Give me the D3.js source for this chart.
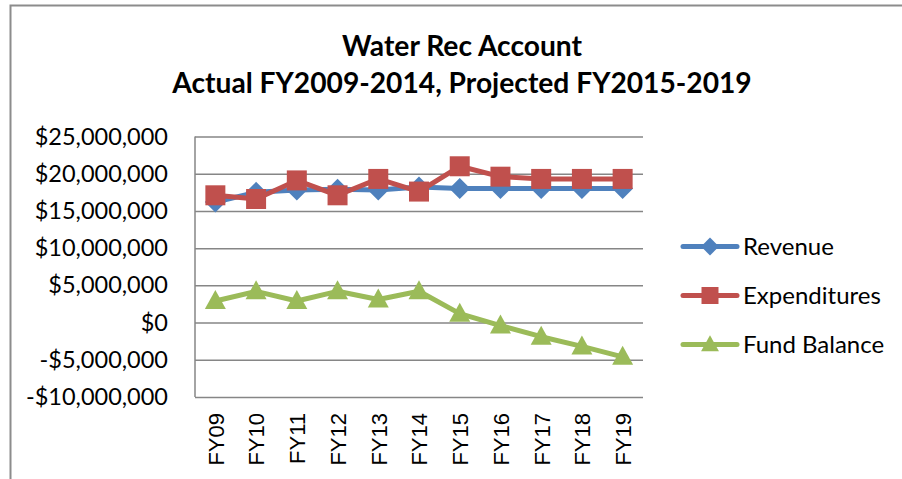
<!DOCTYPE html>
<html>
<head>
<meta charset="utf-8">
<script src="https://cdn.jsdelivr.net/npm/d3@7"></script>
<style>
  body { margin: 0; background: #fff; }
  svg { display: block; }
</style>
</head>
<body>
<svg class="chart"></svg>
<script>
const width = 902
const height = 479
const margin = { top: 136.5, right: 259, bottom: 82, left: 195 }

const years = ['FY09', 'FY10', 'FY11', 'FY12', 'FY13', 'FY14', 'FY15', 'FY16', 'FY17', 'FY18', 'FY19']
const revenue = [16.2, 17.5, 17.8, 17.9, 17.8, 18.2, 18.0, 18.0, 18.0, 18.0, 18.0]
const expenditures = [17.1, 16.6, 19.1, 17.1, 19.3, 17.6, 21.0, 19.6, 19.3, 19.3, 19.3]
const fundBalance = [2.9, 4.2, 2.9, 4.2, 3.1, 4.2, 1.2, -0.4, -1.9, -3.2, -4.6]
const yTicks = [25, 20, 15, 10, 5, 0, -5, -10]
const titleLines = ['Water Rec Account', 'Actual FY2009-2014, Projected FY2015-2019']

const series = [
  { name: 'Revenue', values: revenue, color: '#4F81BD', marker: 'diamond' },
  { name: 'Expenditures', values: expenditures, color: '#C0504D', marker: 'square' },
  { name: 'Fund Balance', values: fundBalance, color: '#9BBB59', marker: 'triangle' }
]

const x = d3.scaleBand()
  .domain(years)
  .range([margin.left, width - margin.right])

const y = d3.scaleLinear()
  .domain([-10, 25])
  .range([height - margin.bottom, margin.top])

const fmt = v => (v < 0 ? '-$' : '$') + d3.format(',')(Math.abs(v) * 1e6)

function markerPath(type) {
  if (type === 'diamond') return 'M0,-10.5L10.5,0L0,10.5L-10.5,0Z'
  if (type === 'square') return 'M-10,-10H10V10H-10Z'
  return 'M0,-11L10.5,8L-10.5,8Z'
}

const svg = d3.select('.chart')
  .attr('width', width)
  .attr('height', height)
  .attr('viewBox', [0, 0, width, height])

// outer frame (only top and left edges show in the crop)
svg.append('path')
  .attr('d', `M10.5,${height}V5.5H${width}`)
  .attr('fill', 'none')
  .attr('stroke', '#8c8c8c')
  .attr('stroke-width', 2)

// title
svg.append('g')
  .selectAll('text')
  .data(titleLines)
  .join('text')
  .attr('x', 462)
  .attr('y', (d, i) => 56 + i * 37)
  .attr('text-anchor', 'middle')
  .attr('font-family', 'Lato, sans-serif')
  .attr('font-weight', 'bold')
  .attr('font-size', 28.2)
  .attr('fill', '#000')
  .text(d => d)

// gridlines + y axis labels
svg.append('g')
  .attr('transform', `translate(${margin.left},0)`)
  .call(d3.axisLeft(y).tickValues(yTicks).tickFormat(fmt)
    .tickSize(-(width - margin.right - margin.left)).tickPadding(27))
  .call(g => g.select('.domain').remove())
  .call(g => g.selectAll('.tick line').attr('stroke', '#868686').attr('stroke-width', 1.5))
  .call(g => g.selectAll('.tick text')
    .attr('font-family', 'Lato, sans-serif')
    .attr('font-size', 23.5)
    .attr('fill', '#000'))

// y axis line
svg.append('line')
  .attr('x1', margin.left).attr('x2', margin.left)
  .attr('y1', y(25)).attr('y2', y(-10))
  .attr('stroke', '#868686')
  .attr('stroke-width', 1.5)

// x axis labels
svg.append('g')
  .attr('transform', `translate(0,${height - margin.bottom})`)
  .call(d3.axisBottom(x).tickSize(0).tickPadding(0))
  .call(g => g.select('.domain').remove())
  .call(g => g.selectAll('.tick text')
    .attr('transform', 'rotate(-90)')
    .attr('x', -16)
    .attr('y', 0)
    .attr('dy', '0.38em')
    .attr('text-anchor', 'end')
    .attr('font-family', '"Liberation Sans", Arial, sans-serif')
    .attr('font-size', 22)
    .attr('fill', '#000'))

const line = d3.line()
  .x((d, i) => x(years[i]) + x.bandwidth() / 2)
  .y(d => y(d))

const lines = svg.append('g')
  .selectAll('g')
  .data(series)
  .join('g')

lines.append('path')
  .attr('d', d => line(d.values))
  .attr('fill', 'none')
  .attr('stroke', d => d.color)
  .attr('stroke-width', 5)
  .attr('stroke-linejoin', 'round')
  .attr('stroke-linecap', 'round')

lines.each(function (s) {
  d3.select(this)
    .selectAll('path.mark')
    .data(s.values)
    .join('path')
    .attr('class', 'mark')
    .attr('d', markerPath(s.marker))
    .attr('transform', (d, i) => `translate(${x(years[i]) + x.bandwidth() / 2},${y(d)})`)
    .attr('fill', s.color)
})

// legend
const legend = svg.append('g')
  .selectAll('g')
  .data(series)
  .join('g')
  .attr('transform', (d, i) => `translate(683,${246.5 + i * 49})`)

legend.append('line')
  .attr('x1', 0).attr('x2', 54)
  .attr('stroke', d => d.color)
  .attr('stroke-width', 5)
  .attr('stroke-linecap', 'round')

legend.append('path')
  .attr('d', d => markerPath(d.marker))
  .attr('transform', 'translate(27,0) scale(0.85)')
  .attr('fill', d => d.color)

legend.append('text')
  .attr('x', 60)
  .attr('dy', '0.35em')
  .attr('font-family', 'Lato, sans-serif')
  .attr('font-size', 24)
  .attr('fill', '#000')
  .text(d => d.name)
</script>
</body>
</html>
